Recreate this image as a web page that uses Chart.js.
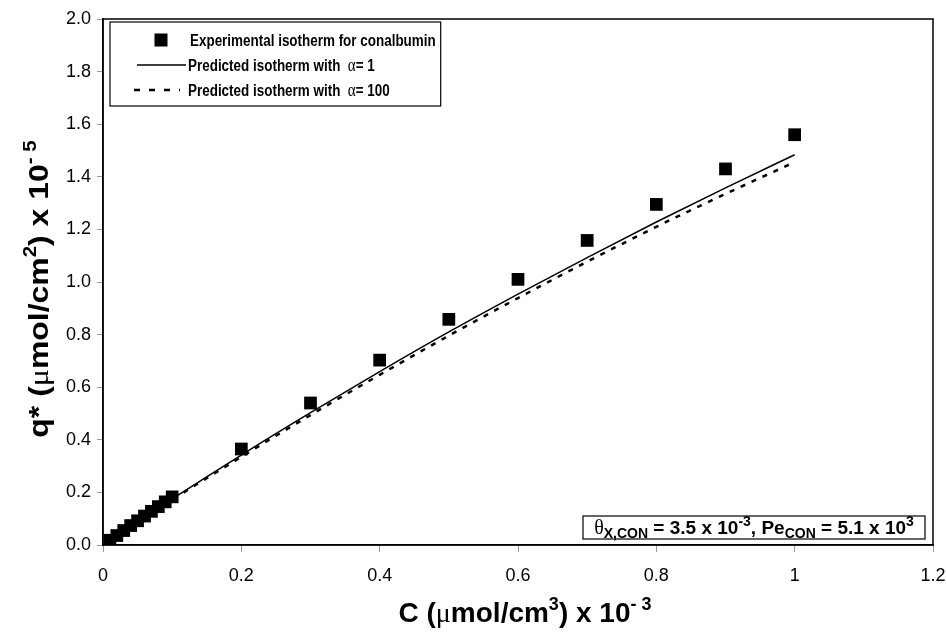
<!DOCTYPE html>
<html><head><meta charset="utf-8">
<script src="https://cdn.jsdelivr.net/npm/chart.js@4/dist/chart.umd.min.js"></script>
<style>html,body{margin:0;padding:0;background:#fff}#wrap{width:946px;height:641px}</style>
</head><body><div id="wrap"><canvas id="c" width="946" height="641"></canvas></div>
<script>
// ---- data ----
const expC = [0.01,0.02,0.03,0.04,0.05,0.06,0.07,0.08,0.09,0.10,0.2,0.3,0.4,0.5,0.6,0.7,0.8,0.9,1.0];
const expQ = [0.018,0.036,0.055,0.074,0.092,0.110,0.128,0.146,0.164,0.183,0.365,0.540,0.703,0.858,1.010,1.158,1.295,1.430,1.560];
const predC = [0,0.1,0.2,0.3,0.4,0.5,0.6,0.7,0.8,0.9,1.0];
const predAlpha1 = [0,0.175,0.342,0.503,0.659,0.810,0.954,1.093,1.228,1.358,1.484];
const predAlpha100 = [0,0.172,0.335,0.494,0.647,0.796,0.939,1.077,1.210,1.335,1.456];
const xTickValues = [0,0.2,0.4,0.6,0.8,1.0,1.2];
const yTickValues = [0,0.2,0.4,0.6,0.8,1.0,1.2,1.4,1.6,1.8,2.0];
const seriesLabels = ['Experimental isotherm for conalbumin','Predicted isotherm with ','Predicted isotherm with '];
const alphaValues = ['1','100'];

const SANS = 'Arial, "Liberation Sans", sans-serif';
const SERIF = '"Liberation Serif", "Times New Roman", serif';

function pts(xs, ys){ return xs.map((x,i)=>({x:x,y:ys[i]})); }

function drawRich(ctx, segs, x, y){
  for(const s of segs){ ctx.font = s.f; ctx.fillText(s.t, x, y + (s.dy||0)); x += ctx.measureText(s.t).width; }
  return x;
}
function richWidth(ctx, segs){
  let w = 0; for(const s of segs){ ctx.font = s.f; w += ctx.measureText(s.t).width; } return w;
}
// draw rich text starting at (x,y), horizontally scaled by sx
function drawRichScaled(ctx, segs, x, y, sx){
  ctx.save(); ctx.translate(x, y); ctx.scale(sx, 1); drawRich(ctx, segs, 0, 0); ctx.restore();
}

const deco = {
  id: 'deco',
  afterDraw(chart){
    const ctx = chart.ctx, a = chart.chartArea;
    ctx.save();
    // plot frame
    ctx.strokeStyle = '#000'; ctx.lineWidth = 1.5;
    ctx.strokeRect(a.left, a.top, a.right - a.left, a.bottom - a.top);
    ctx.fillStyle = '#000'; ctx.textBaseline = 'alphabetic'; ctx.textAlign = 'left';

    // legend
    const lsx = 0.84;
    const lf = 'bold 16px ' + SANS, af = '18px ' + SERIF;
    const lx = 110, ly = 22, lb = 106, rowY = [40, 65, 90];
    const textX = 188;
    const rows = [
      [{t: seriesLabels[0], f: lf}],
      [{t: seriesLabels[1] + ' ', f: lf}, {t: 'α', f: af}, {t: '= ' + alphaValues[0], f: lf}],
      [{t: seriesLabels[2] + ' ', f: lf}, {t: 'α', f: af}, {t: '= ' + alphaValues[1], f: lf}]
    ];
    let maxW = 0; rows.forEach(r => maxW = Math.max(maxW, richWidth(ctx, r)));
    const boxR = textX + maxW * lsx + 7;
    ctx.fillStyle = '#fff'; ctx.fillRect(lx, ly, boxR - lx, lb - ly);
    ctx.strokeStyle = '#000'; ctx.lineWidth = 1.2; ctx.strokeRect(lx, ly, boxR - lx, lb - ly);
    ctx.fillStyle = '#000';
    ctx.fillRect(161 - 6.5, rowY[0] - 6.5, 13, 13);
    ctx.lineWidth = 1.3; ctx.beginPath(); ctx.moveTo(137, rowY[1]); ctx.lineTo(186, rowY[1]); ctx.stroke();
    ctx.lineWidth = 2.5; ctx.setLineDash([6, 9]); ctx.beginPath(); ctx.moveTo(134, rowY[2]); ctx.lineTo(180, rowY[2]); ctx.stroke();
    ctx.setLineDash([]);
    rows.forEach((r, i) => drawRichScaled(ctx, r, i === 0 ? textX + 2 : textX, rowY[i] + 6, lsx));

    // annotation box
    const bf = 'bold 19px ' + SANS, sf = 'bold 14px ' + SANS, tf = '20px ' + SERIF;
    const ann = [
      {t: 'θ', f: tf}, {t: 'X,CON', f: sf, dy: 4}, {t: ' = 3.5 x 10', f: bf}, {t: '-3', f: sf, dy: -8},
      {t: ', Pe', f: bf}, {t: 'CON', f: sf, dy: 4}, {t: ' = 5.1 x 10', f: bf}, {t: '3', f: sf, dy: -8}
    ];
    const annL = 583, annR = 925, annT = 516, annB = 539;
    ctx.fillStyle = '#fff'; ctx.fillRect(annL, annT, annR - annL, annB - annT);
    ctx.lineWidth = 1.2; ctx.strokeRect(annL, annT, annR - annL, annB - annT);
    ctx.fillStyle = '#000';
    const aw = richWidth(ctx, ann);
    drawRich(ctx, ann, (annL + annR) / 2 - aw / 2, 534);

    // x title
    const tb = 'bold 28px ' + SANS, ts = 'bold 18px ' + SANS, tm = '28px ' + SERIF;
    const xt = [{t: 'C (', f: tb}, {t: 'μ', f: tm}, {t: 'mol/cm', f: tb}, {t: '3', f: ts, dy: -12},
                {t: ') x 10', f: tb}, {t: '- 3', f: ts, dy: -12}];
    const xw = richWidth(ctx, xt);
    drawRich(ctx, xt, 525 - xw / 2, 622);

    // y title
    const yt = [{t: 'q* (', f: tb}, {t: 'μ', f: tm}, {t: 'mol/cm', f: tb}, {t: '2', f: ts, dy: -12},
                {t: ') x 10', f: tb}, {t: '- 5', f: ts, dy: -12}];
    const ysx = 1.14;
    const yw = richWidth(ctx, yt) * ysx;
    ctx.translate(48, 289); ctx.rotate(-Math.PI / 2);
    drawRichScaled(ctx, yt, -yw / 2, 0, ysx);
    ctx.restore();
  }
};

new Chart(document.getElementById('c'), {
  type: 'scatter',
  data: {
    datasets: [
      {label: seriesLabels[0], data: pts(expC, expQ), pointStyle: 'rect', pointRadius: 9, pointHoverRadius: 9,
       backgroundColor: '#000', borderColor: '#000', borderWidth: 0, showLine: false, order: 0},
      {label: seriesLabels[1] + 'α= ' + alphaValues[0], data: pts(predC, predAlpha1), showLine: true, pointRadius: 0,
       borderColor: '#000', borderWidth: 1.5, cubicInterpolationMode: 'monotone', order: 1},
      {label: seriesLabels[2] + 'α= ' + alphaValues[1], data: pts(predC, predAlpha100), showLine: true, pointRadius: 0,
       borderColor: '#000', borderWidth: 2.5, borderDash: [5, 7], cubicInterpolationMode: 'monotone', order: 2}
    ]
  },
  options: {
    responsive: false, animation: false, devicePixelRatio: 1,
    layout: {padding: {left: 0, top: 19, right: 13, bottom: 0}},
    plugins: {legend: {display: false}, tooltip: {enabled: false}},
    scales: {
      x: {
        type: 'linear', min: 0, max: 1.2,
        afterBuildTicks: s => { s.ticks = xTickValues.map(v => ({value: v})); },
        afterFit: s => { s.height = 96; s.paddingLeft = 0; s.paddingRight = 0; },
        grid: {drawOnChartArea: false, drawTicks: true, tickLength: 7, color: '#999'},
        border: {display: true, color: '#000', width: 1.5},
        ticks: {color: '#000', font: {family: SANS, size: 18}, padding: 13, maxRotation: 0,
                callback: v => String(Math.round(v * 10) / 10)}
      },
      y: {
        type: 'linear', min: 0, max: 2.0,
        afterBuildTicks: s => { s.ticks = yTickValues.map(v => ({value: v})); },
        afterFit: s => { s.width = 103; s.paddingTop = 0; s.paddingBottom = 0; },
        grid: {drawOnChartArea: false, drawTicks: true, tickLength: 6, color: '#999'},
        border: {display: true, color: '#000', width: 1.5},
        ticks: {color: '#000', font: {family: SANS, size: 18}, padding: 6,
                callback: v => v.toFixed(1)}
      }
    }
  },
  plugins: [deco]
});
</script>
</body></html>
